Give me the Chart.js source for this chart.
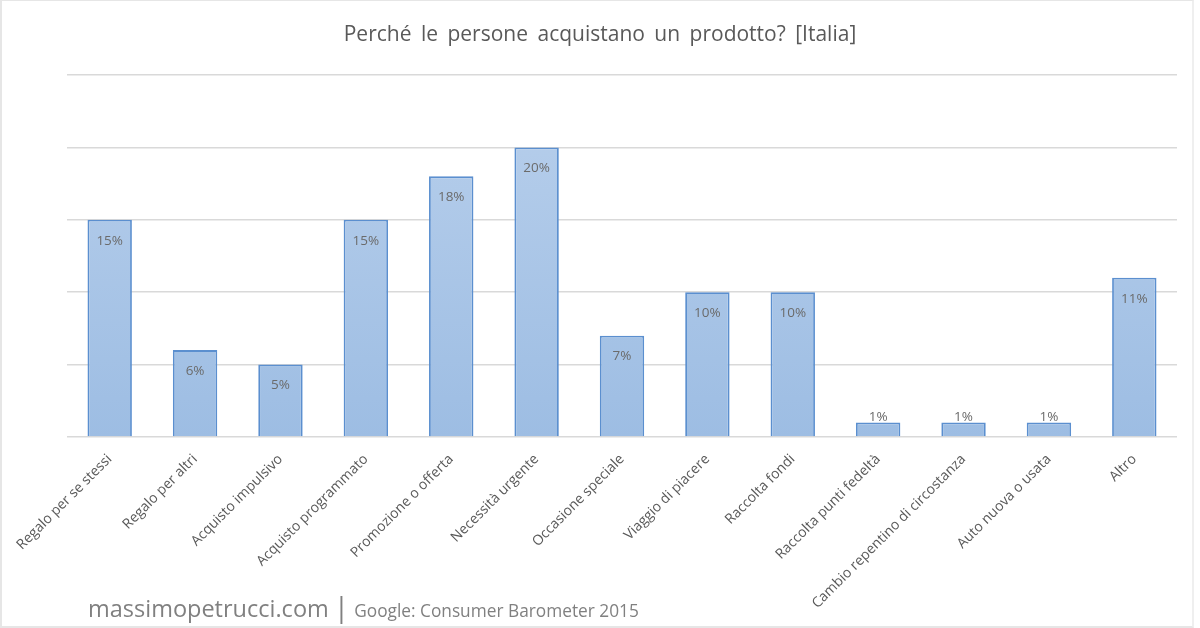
<!DOCTYPE html>
<html>
<head>
<meta charset="utf-8">
<script src="https://cdn.jsdelivr.net/npm/chart.js@4.4.1/dist/chart.umd.min.js"></script>
<style>
    html, body { margin: 0; padding: 0; background: #ffffff; }
    #wrap { position: relative; width: 1200px; height: 628px; overflow: hidden; }
    #wrap::after {
        content: ""; position: absolute; left: 0; top: 0; right: 6px; bottom: 0;
        border: 2px solid #e6e6e6; border-top-width: 1px; border-right-color: #efefef; pointer-events: none;
    }
    #title {
        position: absolute; left: 0; width: 1200px; top: 19px; text-align: center;
        font-family: "Open Sans", sans-serif; font-size: 21px; color: #595959;
        word-spacing: 4px; white-space: nowrap;
    }
    #footer {
        position: absolute; left: 88px; top: 587px;
        font-family: "Open Sans", sans-serif; color: #808080; white-space: nowrap;
    }
    #footer .site { font-size: 23.5px; }
    #footer .sep { font-size: 28px; margin: 0 5px; }
    #footer .src { font-size: 17.3px; }
</style>
</head>
<body>
<div id="wrap">
    <canvas id="chart" width="1200" height="628"></canvas>
    <div id="title">Perché le persone acquistano un prodotto? [Italia]</div>
    <div id="footer"><span class="site">massimopetrucci.com</span><span class="sep">|</span><span class="src">Google: Consumer Barometer 2015</span></div>
</div>
<script>
/*
| Dati del grafico
*/
const categories = [
    "Regalo per se stessi", "Regalo per altri", "Acquisto impulsivo",
    "Acquisto programmato", "Promozione o offerta", "Necessità urgente",
    "Occasione speciale", "Viaggio di piacere", "Raccolta fondi",
    "Raccolta punti fedeltà", "Cambio repentino di circostanza",
    "Auto nuova o usata", "Altro"
];

const percentuali = [15, 6, 5, 15, 18, 20, 7, 10, 10, 1, 1, 1, 11];

const yTicks = [0, 5, 10, 15, 20, 25];

const textColor = "#595959";
const gridColor = "#d9d9d9";

// etichette dentro la barra, vicino alla cima
const valueLabels = {
    id: "valueLabels",
    afterDatasetsDraw(chart) {
        const { ctx } = chart;
        const meta = chart.getDatasetMeta(0);
        ctx.save();
        ctx.font = "13.5px 'Open Sans', sans-serif";
        ctx.fillStyle = "#6b6b6b";
        ctx.textAlign = "center";
        ctx.textBaseline = "middle";
        meta.data.forEach((bar, i) => {
            const h = bar.base - bar.y;
            const y = h > 30 ? bar.y + 21 : bar.y - 5;
            ctx.fillText(percentuali[i] + "%", bar.x, y);
        });
        ctx.restore();
    }
};

const canvas = document.getElementById("chart");

new Chart(canvas, {

    type: "bar",

    data: {

        labels: categories,

        datasets: [{

            data: percentuali,

            backgroundColor: (context) => {
                const area = context.chart.chartArea;
                if (!area) return "#a9c5e6";
                const g = context.chart.ctx.createLinearGradient(0, area.top, 0, area.bottom);
                g.addColorStop(0, "#b9d0ec");
                g.addColorStop(1, "#9dbde3");
                return g;
            },

            borderColor: "#5b8fcf",

            borderWidth: 1.8,

            barPercentage: 0.52,

            categoryPercentage: 1

        }]

    },

    options: {

        responsive: false,

        animation: false,

        layout: {

            padding: { left: 67, right: 23, top: 75, bottom: 0 }

        },

        plugins: {

            legend: { display: false },

            tooltip: { enabled: false },

            title: { display: false }

        },

        scales: {

            x: {

                grid: { display: false },

                border: { display: false },

                ticks: {

                    color: textColor,

                    font: { family: "'Open Sans', sans-serif", size: 14 },

                    minRotation: 45,

                    maxRotation: 45,

                    autoSkip: false,

                    padding: 6

                },

                afterFit(scale) {
                    scale.height = 191;
                }

            },

            y: {

                min: 0,

                max: 25,

                afterBuildTicks(scale) {
                    scale.ticks = yTicks.map(v => ({ value: v }));
                },

                grid: { color: gridColor, lineWidth: 1.5, drawTicks: false },

                border: { display: false },

                ticks: { display: false }

            }

        }

    },

    plugins: [valueLabels]

});
</script>
</body>
</html>
